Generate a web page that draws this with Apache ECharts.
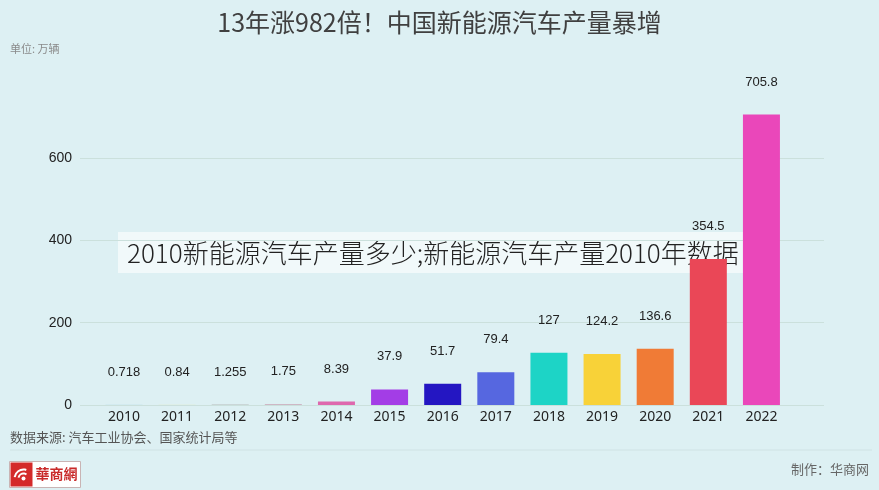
<!DOCTYPE html>
<html>
<head>
<meta charset="utf-8">
<script src="https://cdn.jsdelivr.net/npm/echarts@6/dist/echarts.min.js"></script>
<style>
  html, body { margin: 0; padding: 0; background: #ddf0f3; }
  #chart { width: 879px; height: 490px; }
</style>
</head>
<body>
<div id="chart"></div>
<script>
// 年份
const years = ['2010', '2011', '2012', '2013', '2014', '2015', '2016', '2017', '2018', '2019', '2020', '2021', '2022']
// 新能源汽车产量 (万辆)
const output = [0.718, 0.84, 1.255, 1.75, 8.39, 37.9, 51.7, 79.4, 127, 124.2, 136.6, 354.5, 705.8]
// 每年柱子的颜色
const barColors = ['#b9dbe6', '#e3ecc8', '#b8bcbc', '#c9a4b6', '#de68ae', '#a33de6', '#2416c2', '#5667e0',
  '#1dd4c6', '#f8d238', '#f07b36', '#ea4757', '#ea47ba']
const yTicks = [0, 200, 400, 600, 800]

const chart = echarts.init(document.getElementById('chart'))
const gridLine = '#cbe0dc'

const option = {
  backgroundColor: '#ddf0f3',
  animation: false,
  title: {
    text: '13年涨982倍！中国新能源汽车产量暴增',
    left: 'center',
    top: 5,
    textStyle: { fontSize: 25, fontWeight: 'normal', color: '#404040', fontFamily: 'Noto Sans CJK SC' }
  },
  grid: [
    { left: 80, right: 55, top: 75.7, bottom: 85 },
    { left: 97.4, right: 91, top: 75.7, bottom: 85 }
  ],
  xAxis: [
    { gridIndex: 0, type: 'value', min: 0, max: 1, show: false },
    {
      gridIndex: 1,
      type: 'category',
      data: years,
      axisLine: { show: false },
      axisTick: { show: false },
      axisLabel: { color: '#222', fontSize: 14, margin: 5, fontFamily: 'Noto Sans' }
    }
  ],
  yAxis: [
    {
      gridIndex: 0,
      type: 'value',
      min: yTicks[0],
      max: yTicks[yTicks.length - 1],
      interval: 200,
      axisLine: { show: false },
      axisTick: { show: false },
      axisLabel: { color: '#222', fontSize: 14, margin: 8, showMaxLabel: false, fontFamily: 'Liberation Sans' },
      splitLine: { lineStyle: { color: [gridLine, gridLine, gridLine, gridLine, 'rgba(0,0,0,0)'], width: 1 } }
    },
    {
      gridIndex: 1,
      type: 'value',
      min: yTicks[0],
      max: yTicks[yTicks.length - 1],
      show: false,
      splitLine: { show: false }
    }
  ],
  series: [{
    type: 'bar',
    xAxisIndex: 1,
    yAxisIndex: 1,
    barWidth: 37,
    data: output.map((v, i) => ({ value: v, itemStyle: { color: barColors[i] } })),
    label: {
      show: true,
      position: 'top',
      distance: 26,
      color: '#222',
      fontSize: 13,
      fontFamily: 'Liberation Sans'
    }
  }],
  graphic: [
    { type: 'text', left: 10, top: 43, style: { text: '单位: 万辆', fill: '#8a8a8a', fontSize: 11, fontFamily: 'Noto Sans CJK SC' } },
    { type: 'text', left: 10, top: 431, style: { text: '数据来源: 汽车工业协会、国家统计局等', fill: '#555', fontSize: 13, fontFamily: 'Noto Sans CJK SC' } },
    { type: 'line', shape: { x1: 10, y1: 450, x2: 872, y2: 450 }, style: { stroke: '#cfe2e4', lineWidth: 1 } },
    { type: 'text', right: 10, top: 463, style: { text: '制作：华商网', fill: '#666', fontSize: 13, fontFamily: 'Noto Sans CJK SC' } },
    // 华商网 logo
    {
      type: 'group',
      left: 9,
      top: 461,
      children: [
        { type: 'rect', shape: { x: 0, y: 0, width: 71, height: 26 }, style: { fill: '#fff', stroke: '#c9b4b4', lineWidth: 1 } },
        { type: 'rect', shape: { x: 1, y: 1, width: 22, height: 24 }, style: { fill: '#d42a2a' } },
        { type: 'arc', shape: { cx: 14, cy: 17, r: 9, startAngle: Math.PI * 1.05, endAngle: Math.PI * 1.6 }, style: { stroke: '#fff', lineWidth: 2, fill: null } },
        { type: 'arc', shape: { cx: 14, cy: 17, r: 5, startAngle: Math.PI * 1.05, endAngle: Math.PI * 1.7 }, style: { stroke: '#fff', lineWidth: 2, fill: null } },
        { type: 'circle', shape: { cx: 14, cy: 17, r: 2 }, style: { fill: '#fff' } },
        { type: 'text', x: 26, y: 5, style: { text: '華商網', fill: '#c92a2a', fontSize: 14, fontWeight: 'bold', fontFamily: 'Noto Sans CJK TC' } }
      ]
    },
    // 覆盖在图上的文字条
    {
      type: 'group',
      left: 118,
      top: 232,
      z: 100,
      children: [
        { type: 'rect', shape: { x: 0, y: 0, width: 640, height: 41 }, style: { fill: 'rgba(255,255,255,0.6)' } },
        { type: 'text', x: 9, y: 21, style: { text: '2010新能源汽车产量多少;新能源汽车产量2010年数据', fill: '#222', fontSize: 26, fontWeight: 300, verticalAlign: 'middle', fontFamily: 'Noto Sans CJK SC' } }
      ]
    }
  ]
}

chart.setOption(option)
window.addEventListener('resize', () => chart.resize())
</script>
</body>
</html>
